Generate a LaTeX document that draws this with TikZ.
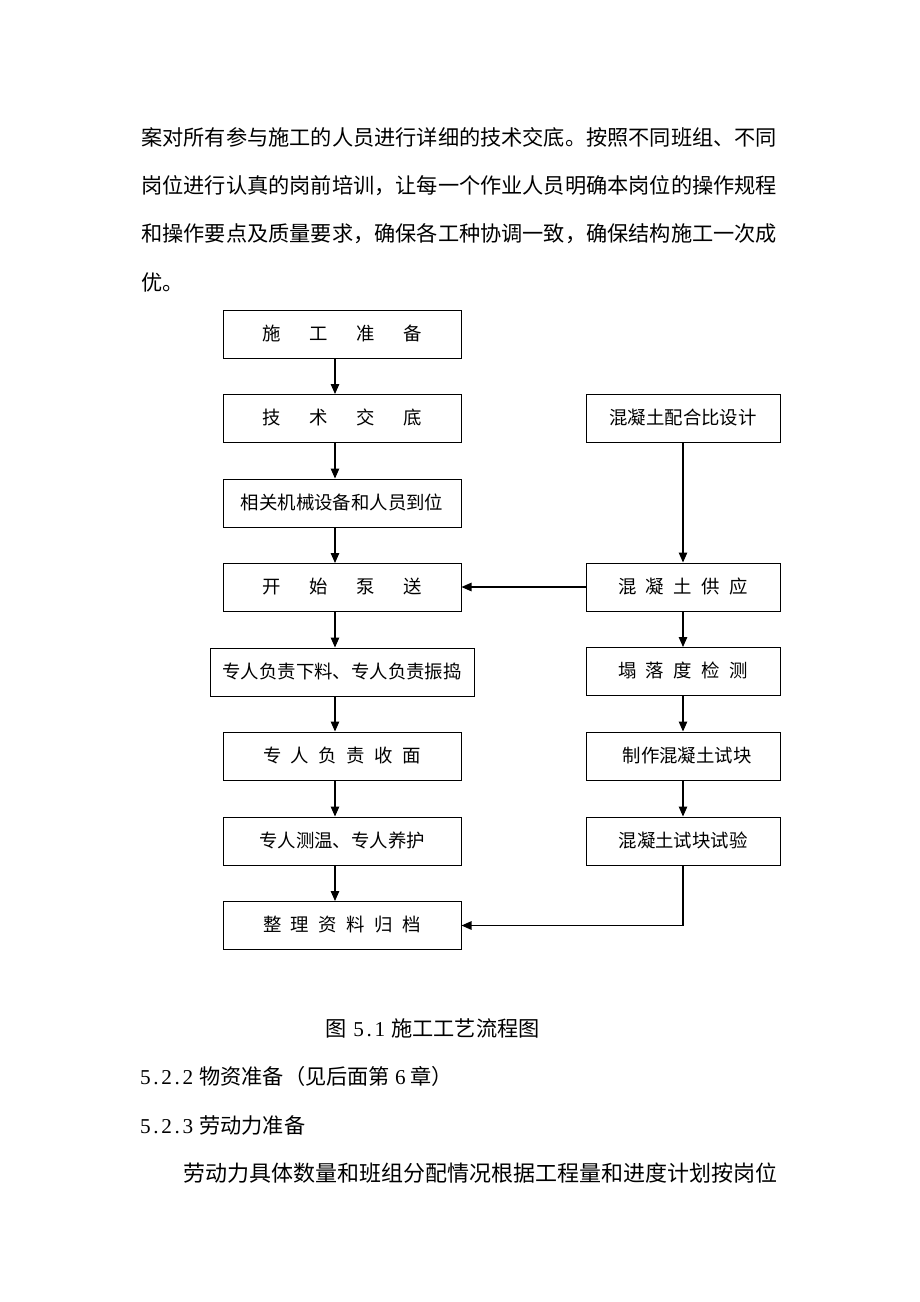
\documentclass[tikz,border=0pt]{standalone}
\usepackage{fontspec}
\setmainfont{Liberation Serif}
\newfontfamily\cjk{Noto Sans CJK SC}
\usetikzlibrary{arrows.meta}
\newcommand\hw[1]{\makebox[10.6pt]{#1}}
\newcommand\gapA{\hspace{28.6pt}}
\newcommand\gapB{\hspace{9.5pt}}
\tikzset{
  box/.style={draw=black, line width=1pt, minimum height=48pt, inner sep=0pt,
    font=\cjk\fontsize{18.4pt}{18.4pt}\selectfont},
  lbox/.style={box, minimum width=238pt},
  wbox/.style={box, minimum width=264pt},
  rbox/.style={box, minimum width=194pt},
  arr/.style={line width=1.2pt, -{Triangle[length=10pt,width=8.5pt]}},
  body/.style={anchor=west, inner sep=0pt, font=\cjk\fontsize{21.2pt}{21.2pt}\selectfont},
}
\begin{document}
\begin{tikzpicture}[x=1pt,y=-1pt]
\useasboundingbox (0,0) rectangle (920,1302);
% body text above
\node[body] (t1) at (141,137) {案对所有参与施工的人员进行详细的技术交底。按照不同班组、不同};
\node[body] (t2) at (141,185.5) {岗位进行认真的岗前培训，让每一个作业人员明确本岗位的操作规程};
\node[body] (t3) at (141,234) {和操作要点及质量要求，确保各工种协调一致，确保结构施工一次成};
\node[body] (t4) at (141,282.5) {优。};
% left column
\node[lbox] (L1) at (342,334) {\raisebox{3pt}{施\gapA 工\gapA 准\gapA 备}};
\node[lbox] (L2) at (342,418.5) {\raisebox{3pt}{技\gapA 术\gapA 交\gapA 底}};
\node[lbox] (L3) at (342,503) {\raisebox{3pt}{相关机械设备和人员到位}};
\node[lbox] (L4) at (342,587.5) {\raisebox{3pt}{开\gapA 始\gapA 泵\gapA 送}};
\node[wbox] (L5) at (342,672) {\raisebox{3pt}{专人负责下料、专人负责振捣}};
\node[lbox] (L6) at (342,756) {\raisebox{3pt}{专\gapB 人\gapB 负\gapB 责\gapB 收\gapB 面}};
\node[lbox] (L7) at (342,841) {\raisebox{3pt}{专人测温、专人养护}};
\node[lbox] (L8) at (342,925.5) {\raisebox{3pt}{整\gapB 理\gapB 资\gapB 料\gapB 归\gapB 档}};
% right column
\node[rbox] (R1) at (683,418.5) {\raisebox{3pt}{混凝土配合比设计}};
\node[rbox] (R2) at (683,587) {\raisebox{3pt}{混\gapB 凝\gapB 土\gapB 供\gapB 应}};
\node[rbox] (R3) at (683,671.5) {\raisebox{3pt}{塌\gapB 落\gapB 度\gapB 检\gapB 测}};
\node[rbox] (R4) at (683,756) {\raisebox{3pt}{\hspace{8pt}制作混凝土试块}};
\node[rbox] (R5) at (683,841) {\raisebox{3pt}{混凝土试块试验}};
% connectors
\coordinate (ax) at (335,0);
\draw[arr] (L1.south -| ax) -- (L2.north -| ax);
\draw[arr] (L2.south -| ax) -- (L3.north -| ax);
\draw[arr] (L3.south -| ax) -- (L4.north -| ax);
\draw[arr] (L4.south -| ax) -- (L5.north -| ax);
\draw[arr] (L5.south -| ax) -- (L6.north -| ax);
\draw[arr] (L6.south -| ax) -- (L7.north -| ax);
\draw[arr] (L7.south -| ax) -- (L8.north -| ax);
\draw[arr] (R1) -- (R2);
\draw[arr] (R2) -- (R3);
\draw[arr] (R3) -- (R4);
\draw[arr] (R4) -- (R5);
\draw[arr] (R2.west) -- (L4.east |- R2.west);
\coordinate (bend) at (683,925.5);
\draw[arr] (R5.south) -- (bend) -- (L8.east);
% caption and text below
\node[body] (cap) at (325,1028) {图\hspace{7pt}{\rmfamily\hw5\hw.\hw1}\hspace{6pt}施工工艺流程图};
\node[body] (h1) at (140,1076) {{\rmfamily\hw5\hw.\hw2\hw.\hw2}\hspace{6pt}物资准备（见后面第\hspace{5pt}{\rmfamily\hw6}\hspace{5pt}章）};
\node[body] (h2) at (140,1125) {{\rmfamily\hw5\hw.\hw2\hw.\hw3}\hspace{6pt}劳动力准备};
\node[body, font=\cjk\fontsize{22pt}{22pt}\selectfont] (t5) at (183,1173) {劳动力具体数量和班组分配情况根据工程量和进度计划按岗位};
\end{tikzpicture}
\end{document}
